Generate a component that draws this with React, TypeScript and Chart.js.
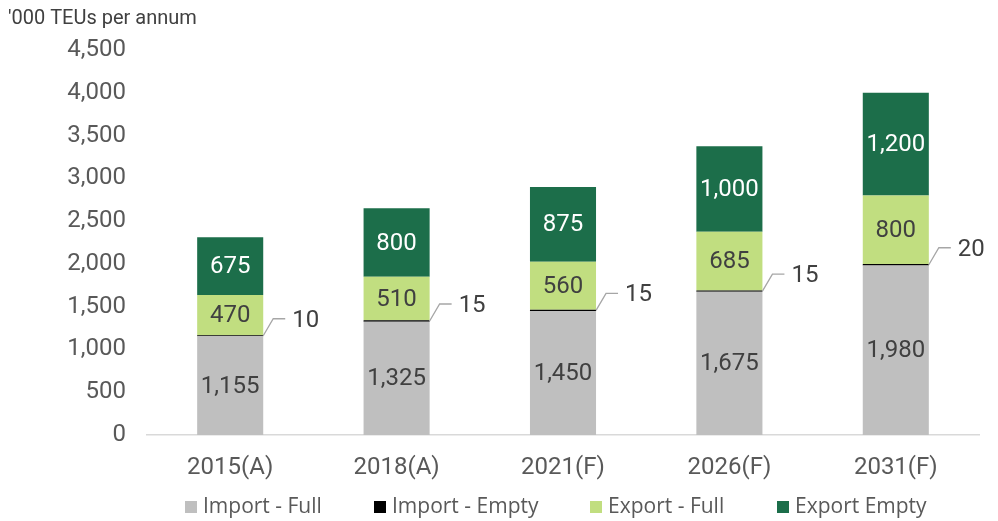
import React, { useEffect, useRef } from "react";
import { Chart, registerables } from "chart.js";

Chart.register(...registerables);

const categories = ["2015(A)", "2018(A)", "2021(F)", "2026(F)", "2031(F)"];
const importFull = [1155, 1325, 1450, 1675, 1980];
const importEmpty = [10, 15, 15, 15, 20];
const exportFull = [470, 510, 560, 685, 800];
const exportEmpty = [675, 800, 875, 1000, 1200];
const seriesNames = ["Import - Full", "Import - Empty", "Export - Full", "Export Empty"];
const seriesColors = ["#BFBFBF", "#000000", "#C1DE80", "#1C6E4A"];
const labelColors = ["#404040", "#404040", "#404040", "#FFFFFF"];
const yTicks = [0, 500, 1000, 1500, 2000, 2500, 3000, 3500, 4000, 4500];
const axisTitle = "'000 TEUs per annum";

const NUM_FONT = "Roboto, 'Liberation Sans', sans-serif";
const LEG_FONT = "'Open Sans', 'Noto Sans', sans-serif";

const fmt = (v: number) => v.toLocaleString("en-US");

const labelsPlugin = {
  id: "customLabels",
  afterDatasetsDraw(chart: any) {
    const ctx = chart.ctx;
    ctx.save();
    chart.data.datasets.forEach((ds: any, di: number) => {
      const meta = chart.getDatasetMeta(di);
      meta.data.forEach((bar: any, i: number) => {
        const v = ds.data[i];
        const props = bar.getProps(["x", "y", "base", "width"], true);
        const midY = (props.y + props.base) / 2;
        if (di === 1) {
          const right = props.x + props.width / 2;
          ctx.strokeStyle = "#A6A6A6";
          ctx.lineWidth = 1.3;
          ctx.beginPath();
          ctx.moveTo(right, midY);
          ctx.lineTo(right + 10, midY - 17);
          ctx.lineTo(right + 22, midY - 17);
          ctx.stroke();
          ctx.fillStyle = "#404040";
          ctx.font = `24px ${NUM_FONT}`;
          ctx.textAlign = "left";
          ctx.textBaseline = "middle";
          ctx.fillText(fmt(v), right + 29, midY - 15);
        } else {
          ctx.fillStyle = labelColors[di];
          ctx.font = `24px ${NUM_FONT}`;
          ctx.textAlign = "center";
          ctx.textBaseline = "middle";
          ctx.fillText(fmt(v), props.x, midY + 1);
        }
      });
    });
    // axis title
    ctx.fillStyle = "#404040";
    ctx.font = `20px ${NUM_FONT}`;
    ctx.textAlign = "left";
    ctx.textBaseline = "middle";
    ctx.fillText(axisTitle, 8, 19);
    // legend
    const items = [185, 374, 590, 777];
    ctx.font = `21px ${LEG_FONT}`;
    chart.data.datasets.forEach((ds: any, di: number) => {
      const x = items[di];
      ctx.fillStyle = ds.backgroundColor;
      ctx.fillRect(x, 501, 12, 12);
      ctx.fillStyle = "#595959";
      ctx.textAlign = "left";
      ctx.textBaseline = "middle";
      ctx.fillText(ds.label, x + 18, 507);
    });
    ctx.restore();
  },
};

export default function App() {
  const ref = useRef<HTMLCanvasElement>(null);
  useEffect(() => {
    if (!ref.current) return;
    const data = [importFull, importEmpty, exportFull, exportEmpty];
    const chart = new Chart(ref.current, {
      type: "bar",
      data: {
        labels: categories,
        datasets: data.map((d, i) => ({
          label: seriesNames[i],
          data: d,
          backgroundColor: seriesColors[i],
          borderWidth: 0,
          barPercentage: 0.397,
          categoryPercentage: 1,
        })),
      },
      options: {
        animation: false,
        responsive: true,
        maintainAspectRatio: false,
        layout: { padding: { top: 50, right: 19, left: 0, bottom: 0 } },
        plugins: { legend: { display: false }, tooltip: { enabled: false }, title: { display: false } },
        scales: {
          x: {
            stacked: true,
            grid: { display: false, drawTicks: false },
            border: { display: true, color: "#D9D9D9", width: 1.5 },
            ticks: { color: "#595959", font: { size: 24, family: NUM_FONT }, padding: 19 },
            afterFit(scale: any) {
              scale.height = 86;
            },
          },
          y: {
            stacked: true,
            min: 0,
            max: 4500,
            grid: { display: false, drawTicks: false },
            border: { display: false },
            afterBuildTicks(scale: any) {
              scale.ticks = yTicks.map((v) => ({ value: v }));
            },
            ticks: {
              color: "#595959",
              font: { size: 24, family: NUM_FONT },
              padding: 21,
              callback: (v: any) => fmt(Number(v)),
            },
            afterFit(scale: any) {
              scale.width = 147;
            },
          },
        },
      },
      plugins: [labelsPlugin],
    } as any);
    return () => chart.destroy();
  }, []);
  return (
    <div style={{ position: "fixed", left: 0, top: 0, width: 998, height: 521, background: "#fff" }}>
      <canvas ref={ref} />
    </div>
  );
}
